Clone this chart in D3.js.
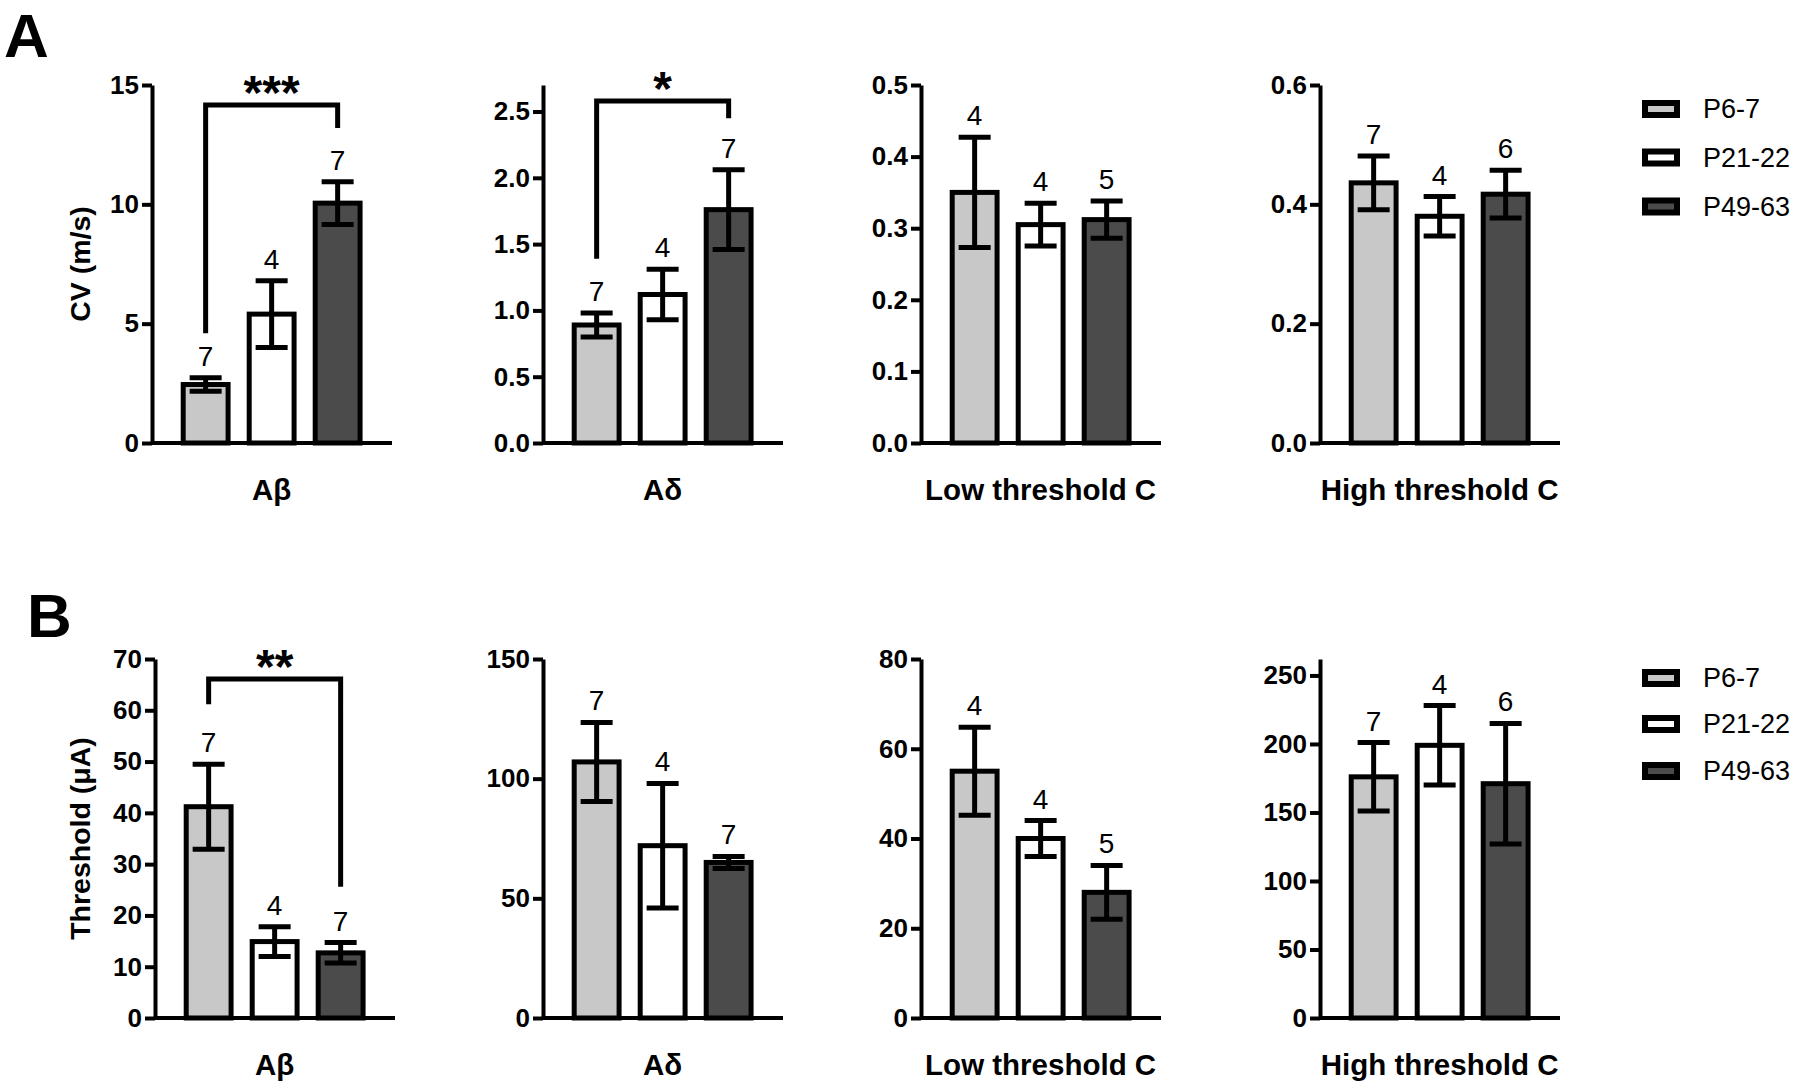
<!DOCTYPE html>
<html>
<head>
<meta charset="utf-8">
<script src="https://cdn.jsdelivr.net/npm/d3@7"></script>
<style>
  body { margin: 0; background: #fff; }
  text { font-family: "Liberation Sans", Arial, sans-serif; }
</style>
</head>
<body>
<div id="chart"></div>
<script>
// Age groups and fibre classes
const groups = ['P6-7', 'P21-22', 'P49-63'];
const groupFills = ['#c8c8c8', '#ffffff', '#4b4b4b'];
const fibres = ['Aβ', 'Aδ', 'Low threshold C', 'High threshold C'];

// A: conduction velocity (m/s), mean ± SEM, n
const cvMean = [[2.45, 5.4, 10.05], [0.89, 1.12, 1.76], [0.35, 0.305, 0.312], [0.436, 0.38, 0.417]];
const cvSem = [[0.28, 1.4, 0.9], [0.09, 0.19, 0.3], [0.077, 0.03, 0.026], [0.045, 0.033, 0.04]];
const cvN = [[7, 4, 7], [7, 4, 7], [4, 4, 5], [7, 4, 6]];
const cvMax = [15, 2.7, 0.5, 0.6];
const cvTicks = [[0, 5, 10, 15], [0, 0.5, 1, 1.5, 2, 2.5], [0, 0.1, 0.2, 0.3, 0.4, 0.5], [0, 0.2, 0.4, 0.6]];
const cvFormat = ['d', '.1f', '.1f', '.1f'];
const cvBrackets = [
  {panel: 0, from: 0, to: 2, top: 14.16, leftEnd: 4.6, rightEnd: 13.2, label: '***'},
  {panel: 1, from: 0, to: 2, top: 2.58, leftEnd: 1.39, rightEnd: 2.45, label: '*'}
];

// B: threshold (µA), mean ± SEM, n
const thrMean = [[41.2, 14.9, 12.7], [107, 72, 65], [55, 40, 28], [176, 199, 171]];
const thrSem = [[8.3, 2.9, 2], [16.5, 26, 2.5], [9.8, 4, 6], [25, 29, 44]];
const thrN = [[7, 4, 7], [7, 4, 7], [4, 4, 5], [7, 4, 6]];
const thrMax = [70, 150, 80, 262];
const thrTicks = [[0, 10, 20, 30, 40, 50, 60, 70], [0, 50, 100, 150], [0, 20, 40, 60, 80], [0, 50, 100, 150, 200, 250]];
const thrFormat = ['d', 'd', 'd', 'd'];
const thrBrackets = [
  {panel: 0, from: 0, to: 2, top: 66.1, leftEnd: 61.2, rightEnd: 25.6, label: '**'}
];

const width = 1800, height = 1089;
const axisLen = 240;

const svg = d3.select('#chart').append('svg')
    .attr('width', width)
    .attr('height', height);

function drawRow(opts) {
  const row = svg.append('g');

  row.append('text')
      .attr('x', opts.letterX)
      .attr('y', opts.letterY)
      .style('font-size', '62px')
      .style('font-weight', 'bold')
      .text(opts.letter);

  row.append('text')
      .attr('transform', 'translate(90,' + (opts.zeroY + opts.topY) / 2 + ') rotate(-90)')
      .attr('text-anchor', 'middle')
      .style('font-size', '28.5px')
      .style('font-weight', 'bold')
      .text(opts.yTitle);

  fibres.forEach((fibre, i) => {
    const ax = opts.axisXs[i];
    const g = row.append('g');

    const y = d3.scaleLinear()
        .domain([0, opts.max[i]])
        .range([opts.zeroY, opts.topY]);

    const x = d3.scaleBand()
        .domain(groups)
        .range([ax + 18, ax + 18 + 66 * 3.08])
        .paddingInner(0.32)
        .paddingOuter(0.2);

    // bars
    g.selectAll('rect.bar')
      .data(groups)
      .enter().append('rect')
        .attr('class', 'bar')
        .attr('x', d => x(d))
        .attr('width', x.bandwidth())
        .attr('y', (d, j) => y(opts.mean[i][j]))
        .attr('height', (d, j) => y(0) - y(opts.mean[i][j]))
        .style('fill', (d, j) => groupFills[j])
        .style('stroke', '#000')
        .style('stroke-width', 5);

    // error bars
    const cx = d => x(d) + x.bandwidth() / 2;
    const capHalf = 16;
    const err = g.selectAll('g.err')
      .data(groups)
      .enter().append('g')
        .attr('class', 'err')
        .style('stroke', '#000')
        .style('stroke-width', 5);
    err.append('line')
        .attr('x1', cx).attr('x2', cx)
        .attr('y1', (d, j) => y(opts.mean[i][j] - opts.sem[i][j]))
        .attr('y2', (d, j) => y(opts.mean[i][j] + opts.sem[i][j]));
    err.append('line')
        .attr('x1', d => cx(d) - capHalf).attr('x2', d => cx(d) + capHalf)
        .attr('y1', (d, j) => y(opts.mean[i][j] + opts.sem[i][j]))
        .attr('y2', (d, j) => y(opts.mean[i][j] + opts.sem[i][j]));
    err.append('line')
        .attr('x1', d => cx(d) - capHalf).attr('x2', d => cx(d) + capHalf)
        .attr('y1', (d, j) => y(opts.mean[i][j] - opts.sem[i][j]))
        .attr('y2', (d, j) => y(opts.mean[i][j] - opts.sem[i][j]));

    // n labels
    g.selectAll('text.n')
      .data(groups)
      .enter().append('text')
        .attr('class', 'n')
        .attr('x', cx)
        .attr('y', (d, j) => y(opts.mean[i][j] + opts.sem[i][j]) - 12)
        .attr('text-anchor', 'middle')
        .style('font-size', '28px')
        .text((d, j) => opts.n[i][j]);

    // y axis
    const yAxis = d3.axisLeft(y)
        .tickValues(opts.ticks[i])
        .tickSize(10)
        .tickSizeOuter(0)
        .tickPadding(3)
        .tickFormat(d3.format(opts.format[i]));
    const ya = g.append('g')
        .attr('transform', 'translate(' + ax + ',0)')
        .call(yAxis);
    ya.select('.domain').style('stroke-width', 4);
    ya.selectAll('.tick line').style('stroke-width', 4);
    ya.selectAll('.tick text')
        .style('font-family', '"Liberation Sans", Arial, sans-serif')
        .style('font-size', '26px')
        .style('font-weight', 'bold')
        .style('fill', '#000');

    // x axis baseline
    g.append('line')
        .attr('x1', ax)
        .attr('x2', ax + axisLen)
        .attr('y1', y(0))
        .attr('y2', y(0))
        .style('stroke', '#000')
        .style('stroke-width', 4);

    g.append('text')
        .attr('x', cx(groups[1]))
        .attr('y', y(0) + 57)
        .attr('text-anchor', 'middle')
        .style('font-size', '29.5px')
        .style('font-weight', 'bold')
        .text(fibre);

    // significance brackets
    opts.brackets.filter(b => b.panel === i).forEach(b => {
      const x1 = cx(groups[b.from]), x2 = cx(groups[b.to]);
      g.append('path')
          .attr('d', 'M' + x1 + ',' + y(b.leftEnd) + 'V' + y(b.top) + 'H' + x2 + 'V' + y(b.rightEnd))
          .style('fill', 'none')
          .style('stroke', '#000')
          .style('stroke-width', 5);
      g.append('text')
          .attr('x', (x1 + x2) / 2)
          .attr('y', y(b.top) + 4)
          .attr('text-anchor', 'middle')
          .style('font-size', '48px')
          .style('font-weight', 'bold')
          .text(b.label);
    });
  });

  // legend
  const legend = row.append('g');
  groups.forEach((grp, j) => {
    const ly = opts.legendY[j];
    legend.append('rect')
        .attr('x', 1645)
        .attr('y', ly - 6)
        .attr('width', 32)
        .attr('height', 12)
        .style('fill', groupFills[j])
        .style('stroke', '#000')
        .style('stroke-width', 6);
    legend.append('text')
        .attr('x', 1703)
        .attr('y', ly + 9)
        .style('font-size', '27px')
        .text(grp);
  });
}

drawRow({
  letter: 'A', letterX: 4, letterY: 57,
  yTitle: 'CV (m/s)', zeroY: 443, topY: 85, axisXs: [152, 543, 921, 1320],
  mean: cvMean, sem: cvSem, n: cvN, max: cvMax, ticks: cvTicks, format: cvFormat,
  brackets: cvBrackets, legendY: [109, 157.5, 206.5]
});

drawRow({
  letter: 'B', letterX: 27, letterY: 637,
  yTitle: 'Threshold (μA)', zeroY: 1018, topY: 659, axisXs: [155, 543, 921, 1320],
  mean: thrMean, sem: thrSem, n: thrN, max: thrMax, ticks: thrTicks, format: thrFormat,
  brackets: thrBrackets, legendY: [678, 724, 771]
});
</script>
</body>
</html>
